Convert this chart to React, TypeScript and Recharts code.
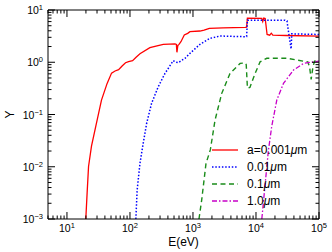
import React from 'react';
import { LineChart, Line, XAxis, YAxis, Legend, Label } from 'recharts';

// ---- data ----
const redE = [19.9, 20.9, 22.0, 24.5, 28.7, 35.3, 43.4, 51, 58, 66, 75, 85, 95, 110, 125, 144, 207, 337, 518, 545, 556, 575, 600, 644, 728, 824, 895, 1290, 1500, 1820, 3000, 6710, 7100, 7300, 12370, 12800, 13300, 14000, 15000, 16500, 17500, 18500, 30000, 100000];
const redY = [0.001, 0.0032, 0.0101, 0.0248, 0.06, 0.189, 0.394, 0.62, 0.68, 0.72, 0.85, 0.98, 1.03, 1.07, 1.25, 1.45, 1.9, 2.2, 2.25, 2.2, 1.55, 2.1, 2.2, 2.47, 3.32, 3.57, 3.84, 3.96, 4.1, 4.46, 4.55, 4.66, 4.7, 7.0, 6.9, 6.0, 7.0, 6.9, 3.4, 3.3, 3.6, 3.3, 3.25, 3.15];

const blueE = [124, 130, 144, 162, 184, 220, 281, 359, 486, 540, 584, 746, 895, 1290, 1862, 2686, 6710, 7100, 7310, 29000, 31000, 34000, 36100, 37000, 100000];
const blueY = [0.001, 0.0036, 0.0116, 0.028, 0.068, 0.163, 0.34, 0.61, 1.07, 1.0, 0.98, 1.19, 1.48, 2.2, 2.87, 3.18, 3.08, 3.1, 6.4, 6.4, 6.2, 2.87, 1.8, 3.5, 3.4];

const greenE = [1245, 1374, 1610, 1884, 2240, 2860, 3870, 5590, 6710, 7000, 7310, 8000, 9680, 11620, 14850, 30900, 56800, 66500, 71000, 75100, 80000, 85000, 100000];
const greenY = [0.001, 0.0023, 0.0116, 0.021, 0.078, 0.254, 0.61, 0.95, 0.97, 0.9, 0.32, 0.33, 0.61, 1.02, 1.19, 1.19, 1.05, 1.02, 0.8, 0.47, 0.8, 1.05, 1.07];

const magentaE = [12370, 13600, 15700, 17800, 21400, 27300, 39400, 56800, 81900, 100000];
const magentaY = [0.001, 0.0033, 0.02, 0.06, 0.189, 0.394, 0.71, 0.95, 1.02, 1.05];

const legendLabels = ['a=0.001', '0.01', '0.1', '1.0'];

const xDecades = [1, 10, 100, 1000, 10000];
const yDecades = [0.001, 0.01, 0.1, 1];
const minorMult = [2, 3, 4, 5, 6, 7, 8, 9];
const xTicks = xDecades
  .flatMap((d) => [d, ...minorMult.map((m) => d * m)])
  .concat([100000])
  .filter((v) => v >= 5);
const yTicks = yDecades.flatMap((d) => [d, ...minorMult.map((m) => d * m)]).concat([10]);

const toPoints = (E: number[], Y: number[]) => E.map((e, i) => ({ E: e, Y: Y[i] }));
const redData = toPoints(redE, redY);
const blueData = toPoints(blueE, blueY);
const greenData = toPoints(greenE, greenY);
const magentaData = toPoints(magentaE, magentaY);

const styles = [
  { color: '#ff0000', dash: undefined as string | undefined, width: 1.3 },
  { color: '#0000ff', dash: '1.5 1.8', width: 1.5 },
  { color: '#1a8c1a', dash: '5 3.5', width: 1.4 },
  { color: '#c800c8', dash: '5 2 1.5 2', width: 1.3 },
];

const FONT = '"Liberation Sans", Arial, Helvetica, sans-serif';

const isMajor = (v: number) => Math.abs(Math.log10(v) - Math.round(Math.log10(v))) < 1e-6;
const fmtExp = (v: number) => {
  const e = Math.round(Math.log10(v));
  return e < 0 ? '\u2212' + -e : String(e);
};

const MAJ = 7;
const MIN = 3.5;

const BottomTick = (props: any) => {
  const { x, y, payload } = props;
  const v = payload.value;
  const maj = isMajor(v);
  return (
    <g>
      <line x1={x} x2={x} y1={y} y2={y - (maj ? MAJ : MIN)} stroke="#000" strokeWidth={1} />
      {maj && (
        <text x={x} y={y + 13} textAnchor="middle" fontSize={10.5} fill="#000" fontFamily={FONT}>
          10
          <tspan dy={-4} fontSize={7.5}>
            {fmtExp(v)}
          </tspan>
        </text>
      )}
    </g>
  );
};

const TopTick = (props: any) => {
  const { x, y, payload } = props;
  const maj = isMajor(payload.value);
  return <line x1={x} x2={x} y1={y} y2={y + (maj ? MAJ : MIN)} stroke="#000" strokeWidth={1} />;
};

const LeftTick = (props: any) => {
  const { x, y, payload } = props;
  const v = payload.value;
  const maj = isMajor(v);
  return (
    <g>
      <line x1={x} x2={x + (maj ? MAJ : MIN)} y1={y} y2={y} stroke="#000" strokeWidth={1} />
      {maj && (
        <text x={x - 5} y={y + 4} textAnchor="end" fontSize={10.5} fill="#000" fontFamily={FONT}>
          10
          <tspan dy={-4} fontSize={7.5}>
            {fmtExp(v)}
          </tspan>
        </text>
      )}
    </g>
  );
};

const RightTick = (props: any) => {
  const { x, y, payload } = props;
  const maj = isMajor(payload.value);
  return <line x1={x} x2={x - (maj ? MAJ : MIN)} y1={y} y2={y} stroke="#000" strokeWidth={1} />;
};

const LegendBox = () => (
  <svg width={115} height={72} style={{ display: 'block' }}>
    {legendLabels.map((lab, i) => {
      const s = styles[i];
      const cy = 10 + i * 17;
      return (
        <g key={lab}>
          <line
            x1={7}
            x2={33}
            y1={cy}
            y2={cy}
            stroke={s.color}
            strokeWidth={s.width}
            strokeDasharray={s.dash}
          />
          <text x={42} y={cy + 4} fontSize={12} fontFamily={FONT} fill="#000">
            {lab}
            <tspan fontStyle="italic">μ</tspan>m
          </text>
        </g>
      );
    })}
  </svg>
);

export default function App() {
  return (
    <div style={{ position: 'absolute', left: 0, top: 0, width: 332, height: 252, background: '#fff' }}>
      <LineChart width={332} height={252} margin={{ top: 0, right: 0, bottom: 0, left: 0 }} style={{ fontFamily: FONT }}>
        <XAxis
          xAxisId="bottom"
          orientation="bottom"
          dataKey="E"
          type="number"
          scale="log"
          domain={[5, 100000]}
          allowDataOverflow
          ticks={xTicks}
          interval={0}
          height={33}
          tickSize={0}
          tickMargin={0}
          tickLine={false}
          axisLine={{ stroke: '#000', strokeWidth: 1 }}
          tick={BottomTick}
        >
          <Label
            content={(p: any) => {
              const vb = p.viewBox;
              return (
                <text x={vb.x + vb.width / 2} y={vb.y + 27} textAnchor="middle" fontSize={12} fontFamily={FONT} fill="#000">
                  E(eV)
                </text>
              );
            }}
          />
        </XAxis>
        <XAxis
          xAxisId="top"
          orientation="top"
          dataKey="E"
          type="number"
          scale="log"
          domain={[5, 100000]}
          allowDataOverflow
          ticks={xTicks}
          interval={0}
          height={10}
          tickSize={0}
          tickMargin={0}
          tickLine={false}
          axisLine={{ stroke: '#000', strokeWidth: 1 }}
          tick={TopTick}
        />
        <YAxis
          yAxisId="left"
          orientation="left"
          type="number"
          scale="log"
          domain={[0.001, 10]}
          allowDataOverflow
          ticks={yTicks}
          interval={0}
          width={48}
          tickSize={0}
          tickMargin={0}
          tickLine={false}
          axisLine={{ stroke: '#000', strokeWidth: 1 }}
          tick={LeftTick}
        >
          <Label
            content={(p: any) => {
              const vb = p.viewBox;
              const cx = 10;
              const cy = vb.y + vb.height / 2;
              return (
                <text
                  x={cx}
                  y={cy}
                  textAnchor="middle"
                  dominantBaseline="central"
                  fontSize={12}
                  fontFamily={FONT}
                  fill="#000"
                  transform={`rotate(-90 ${cx} ${cy})`}
                >
                  Y
                </text>
              );
            }}
          />
        </YAxis>
        <YAxis
          yAxisId="right"
          orientation="right"
          type="number"
          scale="log"
          domain={[0.001, 10]}
          allowDataOverflow
          ticks={yTicks}
          interval={0}
          width={13}
          tickSize={0}
          tickMargin={0}
          tickLine={false}
          axisLine={{ stroke: '#000', strokeWidth: 1 }}
          tick={RightTick}
        />
        <Legend
          layout="vertical"
          align="center"
          verticalAlign="middle"
          wrapperStyle={{ left: 205, top: 140, width: 115, height: 72 }}
          content={() => <LegendBox />}
        />
        <Line
          data={redData}
          dataKey="Y"
          xAxisId="bottom"
          yAxisId="left"
          type="linear"
          stroke={styles[0].color}
          strokeWidth={styles[0].width}
          dot={false}
          activeDot={false}
          isAnimationActive={false}
        />
        <Line
          data={blueData}
          dataKey="Y"
          xAxisId="bottom"
          yAxisId="left"
          type="linear"
          stroke={styles[1].color}
          strokeWidth={styles[1].width}
          strokeDasharray={styles[1].dash}
          dot={false}
          activeDot={false}
          isAnimationActive={false}
        />
        <Line
          data={greenData}
          dataKey="Y"
          xAxisId="bottom"
          yAxisId="left"
          type="linear"
          stroke={styles[2].color}
          strokeWidth={styles[2].width}
          strokeDasharray={styles[2].dash}
          dot={false}
          activeDot={false}
          isAnimationActive={false}
        />
        <Line
          data={magentaData}
          dataKey="Y"
          xAxisId="top"
          yAxisId="right"
          type="linear"
          stroke={styles[3].color}
          strokeWidth={styles[3].width}
          strokeDasharray={styles[3].dash}
          dot={false}
          activeDot={false}
          isAnimationActive={false}
        />
      </LineChart>
    </div>
  );
}
